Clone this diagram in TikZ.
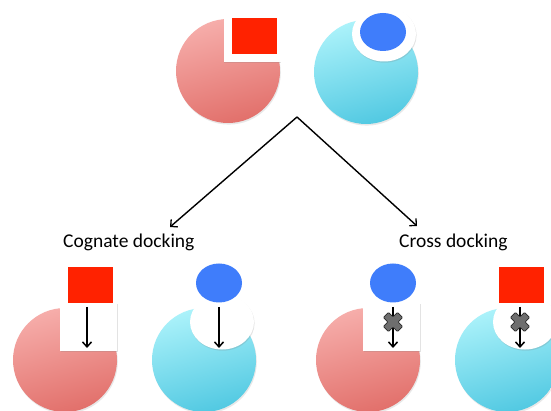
\documentclass[tikz,border=0pt]{standalone}
\usepackage{fontspec}
\setmainfont{Carlito}
\usetikzlibrary{shadows,arrows.meta,shapes.geometric}

\definecolor{ballredtop}{HTML}{F6ADAA}
\definecolor{ballredbot}{HTML}{E2706B}
\definecolor{ballcyantop}{HTML}{ABF2FA}
\definecolor{ballcyanbot}{HTML}{52C9E2}
\definecolor{ligred}{HTML}{FF2200}
\definecolor{ligblue}{HTML}{3F7DFB}
\definecolor{crossgray}{HTML}{6E6E6E}

\tikzset{
  ball/.style={circle, minimum size=104pt, inner sep=0pt, outer sep=0pt,
    drop shadow={shadow xshift=0.8pt, shadow yshift=-1.6pt, opacity=0.18}},
  redball/.style={ball, top color=ballredtop, bottom color=ballredbot, shading angle=15},
  cyanball/.style={ball, top color=ballcyantop, bottom color=ballcyanbot, shading angle=15},
  pocketsq/.style={rectangle, fill=white, inner sep=0pt, outer sep=0pt,
    minimum width=57pt, minimum height=48pt,
    drop shadow={shadow xshift=0.6pt, shadow yshift=-1.2pt, opacity=0.22}},
  pocketov/.style={ellipse, fill=white, inner sep=0pt, outer sep=0pt,
    minimum width=64pt, minimum height=55pt,
    drop shadow={shadow xshift=0.6pt, shadow yshift=-1.2pt, opacity=0.22}},
  ligsq/.style={rectangle, fill=ligred, inner sep=0pt, outer sep=0pt,
    minimum width=45pt, minimum height=36pt},
  ligov/.style={ellipse, fill=ligblue, inner sep=0pt, outer sep=0pt,
    minimum width=46pt, minimum height=39pt},
  dockarrow/.style={line width=1.7pt, -{Straight Barb[length=5pt,width=9pt,line width=1.5pt]}},
  forkarrow/.style={line width=1.4pt, -{Straight Barb[length=5pt,width=10pt,line width=1.3pt]}},
  caption/.style={font=\fontsize{19.5}{22}\selectfont, inner sep=0pt, anchor=base west},
  blockmark/.style={fill=crossgray, draw=black!85, line width=0.8pt, rounded corners=1pt}
}

% thick X drawn over a docking arrow
\newcommand{\blockX}[1]{%
  \begin{scope}[shift={(#1)}, rotate=45]
    \path[blockmark] (-3.6,-10) -- (3.6,-10) -- (3.6,-3.6) -- (10,-3.6) -- (10,3.6)
      -- (3.6,3.6) -- (3.6,10) -- (-3.6,10) -- (-3.6,3.6) -- (-10,3.6) -- (-10,-3.6)
      -- (-3.6,-3.6) -- cycle;
  \end{scope}}

\begin{document}
\begin{tikzpicture}[x=1pt, y=-1pt]
  \useasboundingbox (0,0) rectangle (551,411);
  \clip (0,0) rectangle (551,411);
  \fill[white] (0,0) rectangle (551,411);

  % ---- top: the two receptors with their own ligands ----
  \node[redball] (rtop) at (228,71) {};
  \node[pocketsq, minimum height=50pt] (rtoppocket) at (252,37) {};
  \node[ligsq] (rtoplig) at (254.5,36) {};

  \node[cyanball] (ctop) at (366,72) {};
  \node[pocketov] (ctoppocket) at (384,34) {};
  \node[ligov, minimum height=38pt] (ctoplig) at (383,32) {};

  % ---- fork ----
  \coordinate (apex) at (297,117);
  \coordinate (leftend) at (170,227);
  \coordinate (rightend) at (417,226);
  \draw[forkarrow] (apex) -- (leftend);
  \draw[forkarrow] (apex) -- (rightend);

  \node[caption] (cognate) at (63,248) {Cognate docking};
  \node[caption] (cross) at (399,248) {Cross docking};

  % ---- cognate docking ----
  \node[redball] (rcog) at (65,360) {};
  \node[pocketsq] (rcogpocket) at (88.5,326.5) {};
  \node[ligsq] (rcoglig) at (90.5,285) {};
  \coordinate (rcogA) at (87,307);
  \coordinate (rcogB) at (87,348);
  \draw[dockarrow] (rcogA) -- (rcogB);

  \node[cyanball] (ccog) at (204,360) {};
  \node[pocketov] (ccogpocket) at (222,322) {};
  \node[ligov] (ccoglig) at (219,283) {};
  \coordinate (ccogA) at (219,307);
  \coordinate (ccogB) at (219,348);
  \draw[dockarrow] (ccogA) -- (ccogB);

  % ---- cross docking ----
  \node[redball] (rcross) at (368,360) {};
  \node[pocketsq] (rcrosspocket) at (391.5,326.5) {};
  \node[ligov] (rcrosslig) at (393,283) {};
  \coordinate (rcrossA) at (393,307);
  \coordinate (rcrossB) at (393,348);
  \draw[dockarrow] (rcrossA) -- (rcrossB);
  \blockX{393,322}

  \node[cyanball] (ccross) at (507,360) {};
  \node[pocketov] (ccrosspocket) at (525,322) {};
  \node[ligsq] (ccrosslig) at (521.5,285) {};
  \coordinate (ccrossA) at (520,307);
  \coordinate (ccrossB) at (520,348);
  \draw[dockarrow] (ccrossA) -- (ccrossB);
  \blockX{520,322}
\end{tikzpicture}
\end{document}
